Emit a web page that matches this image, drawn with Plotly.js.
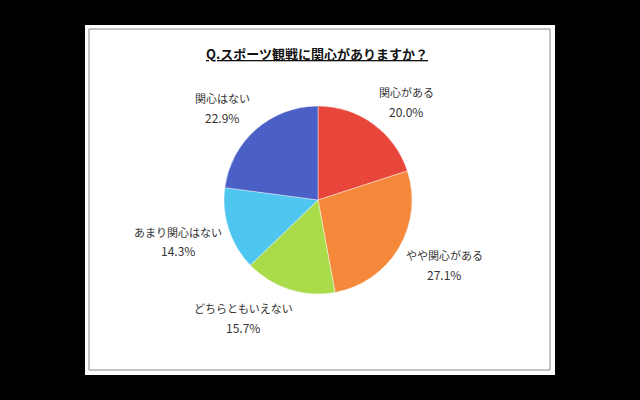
<!DOCTYPE html>
<html>
<head>
<meta charset="utf-8">
<script src="https://cdn.plot.ly/plotly-3.0.1.min.js"></script>
<style>html,body{margin:0;padding:0;background:#000;}#chart{width:640px;height:400px;}</style>
</head>
<body>
<div id="chart"></div>
<script>
// Data
const titleText = "Q.スポーツ観戦に関心がありますか？";
const categories = ["関心がある", "やや関心がある", "どちらともいえない", "あまり関心はない", "関心はない"];
const percentValues = [20.0, 27.1, 15.7, 14.3, 22.9];
const sliceColors = ["#e8463b", "#f5883b", "#a9db4b", "#4ec6ef", "#4b60c6"];

// Label anchor positions in pixels (layout only): [x, y of name line]
const labelPx = [[406, 92], [444, 255], [243, 308], [178, 232], [222, 98]];
const lineGap = 19;

const W = 640, H = 400;
const annotations = [];
categories.forEach((c, i) => {
  annotations.push({
    xref: "paper", yref: "paper",
    x: labelPx[i][0] / W, y: 1 - labelPx[i][1] / H,
    xanchor: "center", yanchor: "middle",
    text: c, showarrow: false,
    font: {family: "Noto Sans CJK JP, sans-serif", size: 11, color: "#333"}
  });
  annotations.push({
    xref: "paper", yref: "paper",
    x: labelPx[i][0] / W, y: 1 - (labelPx[i][1] + lineGap) / H,
    xanchor: "center", yanchor: "middle",
    text: percentValues[i].toFixed(1) + "%", showarrow: false,
    font: {family: "Noto Sans CJK JP, sans-serif", size: 12, color: "#333"}
  });
});

annotations.push({
  xref: "paper", yref: "paper",
  x: 317 / W, y: 1 - 53 / H,
  xanchor: "center", yanchor: "middle",
  text: "<b><u>" + titleText + "</u></b>",
  showarrow: false,
  font: {family: "Noto Sans CJK JP, sans-serif", size: 13, color: "#111"}
});

const cx = 318, cy = 200, r = 94;
const data = [{
  type: "pie",
  labels: categories,
  values: percentValues,
  sort: false,
  direction: "clockwise",
  rotation: 0,
  textinfo: "none",
  hoverinfo: "label+percent",
  marker: {colors: sliceColors, line: {color: "rgba(255,255,255,0.6)", width: 0.7}},
  domain: {x: [(cx - r) / W, (cx + r) / W], y: [1 - (cy + r) / H, 1 - (cy - r) / H]},
  showlegend: false
}];

const layout = {
  width: W, height: H,
  margin: {l: 0, r: 0, t: 0, b: 0},
  paper_bgcolor: "#000",
  showlegend: false,
  shapes: [
    {type: "rect", xref: "paper", yref: "paper", x0: 85 / W, x1: 555 / W, y0: 1 - 375 / H, y1: 1 - 25 / H,
     fillcolor: "#fff", line: {width: 0}, layer: "below"},
    {type: "rect", xref: "paper", yref: "paper", x0: 89 / W, x1: 550 / W, y0: 1 - 370 / H, y1: 1 - 29 / H,
     fillcolor: "rgba(0,0,0,0)", line: {color: "#8a8a8a", width: 1}, layer: "below"}
  ],
  annotations: annotations
};

Plotly.newPlot("chart", data, layout, {staticPlot: true});
</script>
</body>
</html>
